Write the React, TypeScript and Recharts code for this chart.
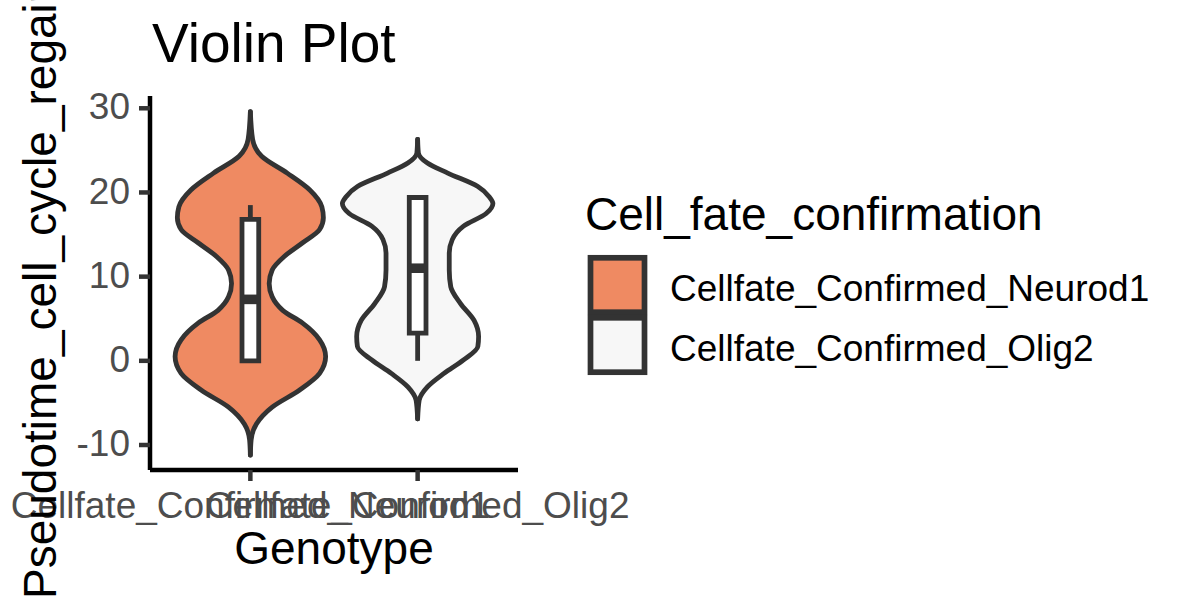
import React from "react";
import {
  ComposedChart,
  Area,
  XAxis,
  YAxis,
  ReferenceArea,
  ReferenceLine,
} from "recharts";

const CATEGORIES = ["Cellfate_Confirmed_Neurod1", "Cellfate_Confirmed_Olig2"];
const FILLS = ["#EF8A62", "#F7F7F7"];

// violin outlines: pseudotime value and relative density
const NEUROD1_T = [
  -11.2, -9.4, -7.5, -5.5, -3.5, -1.5, 0.5, 2.5, 4.5, 6.0, 7.6, 9.2, 10.8,
  12.4, 14.0, 15.6, 17.0, 18.3, 20.3, 22.3, 24.3, 26.3, 29.6,
];
const NEUROD1_DENSITY = [
  0, 0.01, 0.08, 0.29, 0.65, 0.92, 1.0, 0.92, 0.69, 0.43, 0.29, 0.25, 0.29,
  0.45, 0.69, 0.92, 0.97, 0.95, 0.79, 0.49, 0.15, 0.03, 0,
];
const OLIG2_T = [
  -6.9, -4.7, -3.1, -1.5, 0.1, 1.7, 2.9, 4.8, 6.8, 8.8, 10.8, 12.8, 14.4,
  16.0, 17.5, 18.7, 19.5, 20.7, 22.3, 23.5, 24.7, 26.3,
];
const OLIG2_DENSITY = [
  0, 0.02, 0.13, 0.35, 0.61, 0.8, 0.81, 0.75, 0.57, 0.44, 0.42, 0.42, 0.46,
  0.61, 0.91, 1.0, 0.95, 0.8, 0.4, 0.13, 0.01, 0,
];

// boxplot stats per genotype
const Q1 = [0, 3.3];
const MEDIAN = [7.3, 11.0];
const Q3 = [16.8, 19.4];
const WHISKER_LOW = [0, 0];
const WHISKER_HIGH = [18.5, 19.4];

const Y_TICKS = [-10, 0, 10, 20, 30];

const FONT = "'Liberation Sans', Arial, sans-serif";
const OUTLINE = "#333333";
const LINE_W = 4.8;
const HALF_WIDTH = 0.45;
const BOX_HALF = 0.05;

const violinRows = (ts: number[], dens: number[], pos: number) =>
  ts.map((t, i) => ({
    t,
    span: [pos - dens[i] * HALF_WIDTH, pos + dens[i] * HALF_WIDTH],
  }));

const VIOLINS = [
  violinRows(NEUROD1_T, NEUROD1_DENSITY, 1),
  violinRows(OLIG2_T, OLIG2_DENSITY, 2),
];

const YTick = (props: any) => {
  const { x, y, payload } = props;
  return (
    <text
      x={x}
      y={y}
      dy="0.3em"
      textAnchor="end"
      fontSize={37}
      fontFamily={FONT}
      fill="#4D4D4D"
    >
      {payload.value}
    </text>
  );
};

const XTick = (props: any) => {
  const { x, y, payload } = props;
  return (
    <text
      x={x}
      y={y}
      dy="0.72em"
      textAnchor="middle"
      fontSize={37}
      fontFamily={FONT}
      fill="#4D4D4D"
    >
      {CATEGORIES[payload.value - 1]}
    </text>
  );
};

function LegendOverlay() {
  return (
    <svg
      width={1200}
      height={600}
      style={{ position: "absolute", left: 0, top: 0, pointerEvents: "none" }}
    >
      <text x={52} y={595} transform="rotate(-90 56 595)" fontSize={46} fontFamily={FONT} fill="#000">
        Pseudotime_cell_cycle_regain
      </text>
      <text x={152} y={62} fontSize={55} fontFamily={FONT} fill="#000">
        Violin Plot
      </text>
      <text x={585} y={230} fontSize={46} fontFamily={FONT} fill="#000">
        Cell_fate_confirmation
      </text>
      {CATEGORIES.map((c, i) => (
        <g key={c}>
          <rect
            x={590.5}
            y={257.8 + i * 60}
            width={54}
            height={54.4}
            fill={FILLS[i]}
            stroke={OUTLINE}
            strokeWidth={5.7}
          />
          <text x={670} y={301 + i * 60} fontSize={37} fontFamily={FONT} fill="#000">
            {c}
          </text>
        </g>
      ))}
    </svg>
  );
}

export default function App() {
  return (
    <div
      style={{
        position: "absolute",
        left: 0,
        top: 0,
        width: 1200,
        height: 600,
        background: "#fff",
      }}
    >
      <ComposedChart
        width={1200}
        height={600}
        layout="vertical"
        margin={{ top: 96, right: 682, bottom: 40, left: 80 }}
      >
        <XAxis
          type="number"
          dataKey="span"
          domain={[0.4, 2.6]}
          ticks={[1, 2]}
          allowDataOverflow
          height={90}
          tickSize={11}
          tickMargin={10}
          axisLine={{ stroke: "#000", strokeWidth: 4.5 }}
          tickLine={{ stroke: OUTLINE, strokeWidth: 4.5 }}
          tick={<XTick />}
          label={{
            value: "Genotype",
            position: "insideBottom",
            offset: 0,
            content: (p: any) => (
              <text
                x={p.viewBox.x + p.viewBox.width / 2}
                y={564}
                textAnchor="middle"
                fontSize={46}
                fontFamily={FONT}
                fill="#000"
              >
                Genotype
              </text>
            ),
          }}
        />
        <YAxis
          type="number"
          dataKey="t"
          domain={[-12.97, 31.46]}
          ticks={Y_TICKS}
          reversed
          allowDataOverflow
          width={70}
          tickSize={11}
          tickMargin={9}
          axisLine={{ stroke: "#000", strokeWidth: 4.5 }}
          tickLine={{ stroke: OUTLINE, strokeWidth: 4.5 }}
          tick={<YTick />}
        />
        {VIOLINS.map((rows, i) => (
          <Area
            key={CATEGORIES[i]}
            data={rows}
            dataKey="span"
            name={CATEGORIES[i]}
            type="monotone"
            fill={FILLS[i]}
            fillOpacity={1}
            stroke={OUTLINE}
            strokeWidth={LINE_W}
            strokeLinejoin="round"
            strokeLinecap="round"
            dot={false}
            activeDot={false}
            isAnimationActive={false}
          />
        ))}
        {CATEGORIES.map((c, i) => (
          <ReferenceLine
            key={c + "-wlo"}
            segment={[
              { x: i + 1, y: WHISKER_LOW[i] },
              { x: i + 1, y: Q1[i] },
            ]}
            stroke={OUTLINE}
            strokeWidth={LINE_W}
          />
        ))}
        {CATEGORIES.map((c, i) => (
          <ReferenceLine
            key={c + "-whi"}
            segment={[
              { x: i + 1, y: Q3[i] },
              { x: i + 1, y: WHISKER_HIGH[i] },
            ]}
            stroke={OUTLINE}
            strokeWidth={LINE_W}
          />
        ))}
        {CATEGORIES.map((c, i) => (
          <ReferenceArea
            key={c + "-box"}
            x1={i + 1 - BOX_HALF}
            x2={i + 1 + BOX_HALF}
            y1={Q1[i]}
            y2={Q3[i]}
            fill="#FFFFFF"
            fillOpacity={1}
            stroke={OUTLINE}
            strokeWidth={LINE_W}
          />
        ))}
        {CATEGORIES.map((c, i) => (
          <ReferenceLine
            key={c + "-med"}
            segment={[
              { x: i + 1 - BOX_HALF, y: MEDIAN[i] },
              { x: i + 1 + BOX_HALF, y: MEDIAN[i] },
            ]}
            stroke={OUTLINE}
            strokeWidth={LINE_W * 2}
          />
        ))}
      </ComposedChart>
      <LegendOverlay />
    </div>
  );
}
